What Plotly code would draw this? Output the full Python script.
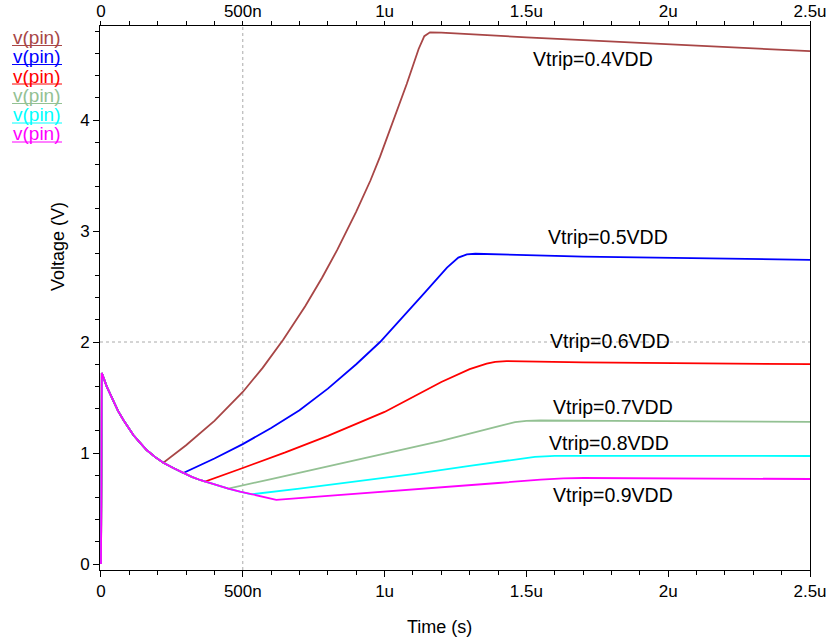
import plotly.graph_objects as go

# ---- data (time in microseconds, voltage in V) ----
decay_t = [0.0, 0.003, 0.02, 0.043, 0.06, 0.079, 0.095, 0.114, 0.135, 0.161, 0.19, 0.22,
           0.255, 0.29, 0.32, 0.349, 0.367, 0.40, 0.449, 0.49, 0.531, 0.575, 0.618]
decay_v = [0.0, 1.72, 1.60, 1.477, 1.38, 1.297, 1.23, 1.162, 1.10, 1.027, 0.965, 0.913,
           0.865, 0.82, 0.785, 0.757, 0.742, 0.715, 0.68, 0.653, 0.628, 0.602, 0.578]

labels = ["Vtrip=0.4VDD", "Vtrip=0.5VDD", "Vtrip=0.6VDD", "Vtrip=0.7VDD", "Vtrip=0.8VDD", "Vtrip=0.9VDD"]
branch_t = [0.22, 0.29, 0.367, 0.449, 0.531, 0.618]

rise_t_04 = [0.30, 0.40, 0.5, 0.57, 0.643, 0.72, 0.78, 0.833, 0.90, 0.95, 0.984, 1.031, 1.078, 1.12, 1.14, 1.16, 1.20, 1.5, 2.0, 2.5]
rise_v_04 = [1.07, 1.29, 1.55, 1.767, 2.022, 2.323, 2.581, 2.83, 3.175, 3.455, 3.67, 3.99, 4.325, 4.64, 4.755, 4.79, 4.787, 4.745, 4.68, 4.62]

rise_t_05 = [0.4, 0.5, 0.6, 0.7, 0.8, 0.9, 0.984, 1.06, 1.14, 1.22, 1.26, 1.29, 1.32, 1.7, 2.1, 2.5]
rise_v_05 = [0.95, 1.08, 1.225, 1.385, 1.58, 1.80, 2.0, 2.21, 2.44, 2.67, 2.76, 2.79, 2.795, 2.77, 2.755, 2.74]

rise_t_06 = [0.5, 0.65, 0.8, 0.9, 1.0, 1.1, 1.2, 1.3, 1.36, 1.39, 1.43, 1.7, 2.1, 2.5]
rise_v_06 = [0.865, 1.005, 1.155, 1.26, 1.37, 1.505, 1.64, 1.755, 1.805, 1.822, 1.828, 1.817, 1.81, 1.80]

rise_t_07 = [0.6, 0.8, 1.0, 1.2, 1.4, 1.46, 1.5, 1.55, 1.8, 2.2, 2.5]
rise_v_07 = [0.765, 0.88, 0.99, 1.11, 1.24, 1.278, 1.29, 1.293, 1.29, 1.285, 1.28]

rise_t_08 = [0.7, 0.9, 1.1, 1.3, 1.45, 1.53, 1.6, 1.7, 2.1, 2.5]
rise_v_08 = [0.68, 0.743, 0.81, 0.885, 0.94, 0.965, 0.975, 0.976, 0.975, 0.973]

rise_t_09 = [0.8, 1.0, 1.2, 1.4, 1.55, 1.63, 1.7, 2.0, 2.5]
rise_v_09 = [0.613, 0.65, 0.69, 0.73, 0.76, 0.772, 0.775, 0.772, 0.766]

rises = [(rise_t_04, rise_v_04), (rise_t_05, rise_v_05), (rise_t_06, rise_v_06),
         (rise_t_07, rise_v_07), (rise_t_08, rise_v_08), (rise_t_09, rise_v_09)]

colors = ["#a84646", "#0000ff", "#ff0000", "#93c193", "#00ffff", "#ff00ff"]
legend_names = ["v(pin)"] * 6

tick_vals = [0, 0.5, 1, 1.5, 2, 2.5]
tick_text = ["0", "500n", "1u", "1.5u", "2u", "2.5u"]

# label anchor positions (data coords, left edge)
label_t = [1.516, 1.569, 1.576, 1.585, 1.573, 1.585]
label_v = [4.55, 2.946, 2.01, 1.417, 1.09, 0.62]

FONT = "Liberation Sans, Arial, Helvetica, sans-serif"
L, R, T, B = 100, 810, 26, 570
W, H = 834, 638


def px(x):
    return (x - L) / (R - L)


def py(y):
    return (B - y) / (B - T)


fig = go.Figure()
for i, (rt, rv) in enumerate(rises):
    k = decay_t.index(branch_t[i]) + 1
    t = decay_t[:k] + rt
    v = decay_v[:k] + rv
    fig.add_trace(go.Scatter(x=t, y=v, mode="lines", name=legend_names[i],
                             line=dict(color=colors[i], width=1.8), hoverinfo="skip"))

# dummy trace to carry the top axis
fig.add_trace(go.Scatter(x=decay_t, y=decay_v, xaxis="x2", mode="lines",
                         line=dict(width=0), opacity=0, hoverinfo="skip", showlegend=False))

ax_common = dict(showline=True, linecolor="black", linewidth=1, ticks="outside",
                 tickcolor="black", showgrid=False, zeroline=False, automargin=False,
                 tickfont=dict(family=FONT, size=17, color="black"))

minor_x = dict(tickmode="linear", tick0=0, dtick=0.1, ticks="outside", ticklen=4,
               tickcolor="black", showgrid=False)

fig.update_layout(
    width=W, height=H,
    margin=dict(l=L, r=W - R, t=T, b=H - B, autoexpand=False),
    plot_bgcolor="white", paper_bgcolor="white",
    showlegend=False,
    font=dict(family=FONT, color="black"),
    xaxis=dict(range=[-0.0035, 2.5], tickmode="array", tickvals=tick_vals, ticktext=tick_text,
               minor=minor_x, ticklen=6, **ax_common),
    xaxis2=dict(range=[-0.0035, 2.5], overlaying="x", side="top", tickmode="array",
                tickvals=tick_vals, ticktext=tick_text, minor=minor_x, ticklen=4,
                ticklabelstandoff=-3, **ax_common),
    yaxis=dict(range=[-0.054, 4.847], tickmode="linear", tick0=0, dtick=1, mirror=True,
               ticklen=6,
               minor=dict(tickmode="linear", tick0=0, dtick=0.2, ticks="outside", ticklen=4,
                          tickcolor="black", showgrid=False),
               **ax_common),
)

# dashed reference lines
fig.add_shape(type="line", x0=0.5, x1=0.5, y0=0, y1=1, xref="x", yref="paper",
              line=dict(color="#aaaaaa", width=1, dash="3px,3px"), layer="below")
fig.add_shape(type="line", x0=0, x1=1, y0=2, y1=2, xref="paper", yref="y",
              line=dict(color="#aaaaaa", width=1, dash="3px,3px"), layer="below")

# curve labels
for i in range(6):
    fig.add_annotation(x=label_t[i], y=label_v[i], xref="x", yref="y", text=labels[i],
                       showarrow=False, xanchor="left", yanchor="middle",
                       font=dict(family=FONT, size=19.5, color="black"))

# legend-like text entries with underline
leg_y = [37.5, 56.5, 76, 95.5, 115, 134]
for i in range(6):
    fig.add_annotation(x=px(11), y=py(leg_y[i]), xref="paper", yref="paper", text=legend_names[i],
                       showarrow=False, xanchor="left", yanchor="middle",
                       font=dict(family=FONT, size=19, color=colors[i]))
    fig.add_shape(type="line", x0=px(12), x1=px(62), y0=py(leg_y[i] + 8), y1=py(leg_y[i] + 8),
                  xref="paper", yref="paper", line=dict(color=colors[i], width=1))

# axis titles
fig.add_annotation(x=px(58), y=py(247), xref="paper", yref="paper", text="Voltage (V)",
                   showarrow=False, textangle=-90, xanchor="center", yanchor="middle",
                   font=dict(family=FONT, size=18, color="black"))
fig.add_annotation(x=px(439), y=py(627), xref="paper", yref="paper", text="Time (s)",
                   showarrow=False, xanchor="center", yanchor="middle",
                   font=dict(family=FONT, size=18, color="black"))

fig.write_html("out.html")
